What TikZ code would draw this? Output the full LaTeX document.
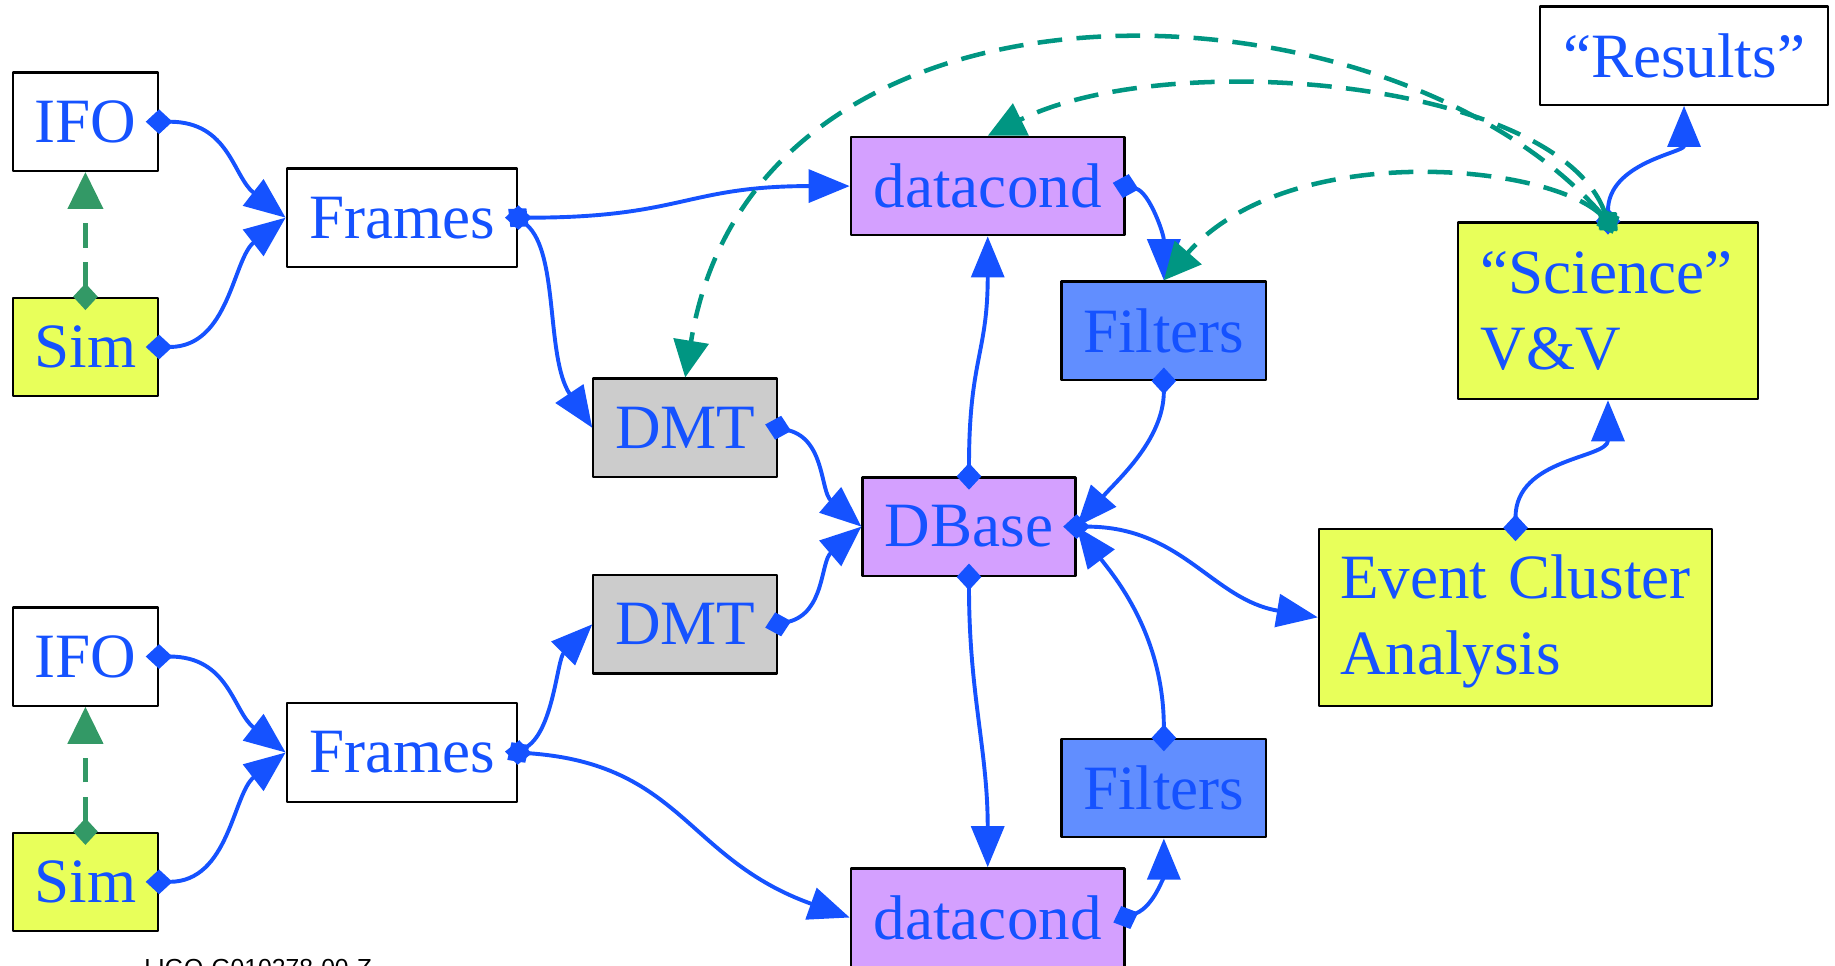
\documentclass[tikz,border=0pt]{standalone}
\usepackage{fontspec}
\setmainfont{Liberation Serif}
\newfontfamily\idfont{Liberation Sans}
\usetikzlibrary{arrows.meta}
\definecolor{inkblue}{RGB}{21,82,255}
\definecolor{linkteal}{RGB}{0,150,130}
\definecolor{simgreen}{RGB}{51,153,102}
\definecolor{simyellow}{RGB}{232,255,90}
\definecolor{lilac}{RGB}{212,160,255}
\definecolor{dmtgrey}{RGB}{204,204,204}
\definecolor{filtblue}{RGB}{97,142,255}
\begin{document}
\begin{tikzpicture}[x=0.02cm, y=-0.02cm, line join=round,
	box/.style={draw=black, line width=1.1pt, text=inkblue, inner sep=0pt, minimum height=1.68cm, font=\fontsize{30.7}{37}\selectfont},
	tallbox/.style={box, minimum height=3.02cm, align=left},
	flow/.style={draw=inkblue, line width=1.9pt, {Diamond[length=13pt,width=12pt]}-{Triangle[length=20pt,width=16pt]}, shorten <=-6.5pt},
	link/.style={draw=linkteal, line width=2.2pt, dash pattern=on 12pt off 7pt, {Diamond[length=13pt,width=12pt]}-{Triangle[length=18pt,width=17pt]}, shorten <=-6.5pt},
	simlink/.style={link, draw=simgreen}]
				\useasboundingbox (0,0) rectangle (1568,825);
				\node[box, minimum width=2.48cm] (ifoA) at (73,104) {IFO};
				\node[box, minimum width=2.48cm, fill=simyellow] (simA) at (73,296.5) {Sim};
				\node[box, minimum width=3.94cm] (framesA) at (343.5,186) {Frames};
				\node[box, minimum width=2.48cm] (ifoB) at (73,561) {IFO};
				\node[box, minimum width=2.48cm, fill=simyellow] (simB) at (73,753.5) {Sim};
				\node[box, minimum width=3.94cm] (framesB) at (343.5,643) {Frames};
				\node[box, minimum width=3.14cm, fill=dmtgrey] (dmtA) at (585.5,365.5) {DMT};
				\node[box, minimum width=3.14cm, fill=dmtgrey] (dmtB) at (585.5,533.5) {DMT};
				\node[box, minimum width=4.68cm, fill=lilac] (dcA) at (844,159) {datacond};
				\node[box, minimum width=4.68cm, fill=lilac] (dcB) at (844,784) {datacond};
				\node[box, minimum width=3.64cm, fill=lilac] (dbase) at (828,450) {DBase};
				\node[box, minimum width=3.5cm, fill=filtblue] (filtA) at (994.5,282.5) {Filters};
				\node[box, minimum width=3.5cm, fill=filtblue] (filtB) at (994.5,673.5) {Filters};
				\node[box, minimum width=4.92cm] (results) at (1439,47.5) {“Results”};
				\node[tallbox, minimum width=5.12cm, text width=4.36cm, fill=simyellow] (science) at (1374,265.5) {“Science”\\V\&V};
				\node[tallbox, minimum width=6.72cm, text width=6cm, fill=simyellow] (event) at (1295,527.5) {\rule{0pt}{0.9cm}Event Cluster\\Analysis};
				\node[font=\idfont\fontsize{12}{14}\selectfont, anchor=base west, inner sep=0pt] (docid) at (123,834) {LIGO-G010278-00-Z};
				\draw[simlink] (simA.north) -- (ifoA.south);
				\draw[simlink] (simB.north) -- (ifoB.south);
				\draw[flow] (ifoA.east) .. controls +(60,0) and +(-45,-35) .. (framesA.west);
				\draw[flow] (simA.east) .. controls +(60,0) and +(-45,35) .. (framesA.west);
				\draw[flow] (ifoB.east) .. controls +(60,0) and +(-45,-35) .. (framesB.west);
				\draw[flow] (simB.east) .. controls +(60,0) and +(-45,35) .. (framesB.west);
				\draw[flow] (framesA.east) .. controls +(140,0) and +(-140,0) .. (dcA.west);
				\draw[flow] (framesA.east) .. controls +(35,30) and +(-40,-60) .. (dmtA.west);
				\draw[flow] (framesB.east) .. controls +(30,-20) and +(-30,30) .. (dmtB.west);
				\draw[flow] (framesB.east) .. controls +(140,10) and +(-140,-50) .. (dcB.west);
				\draw[flow] (dmtA.east) .. controls +(40,10) and +(-35,-30) .. (dbase.west);
				\draw[flow] (dmtB.east) .. controls +(40,-10) and +(-35,30) .. (dbase.west);
				\draw[flow] (dbase.north) .. controls +(0,-100) and +(0,100) .. (dcA.south);
				\draw[flow] (dbase.south) .. controls +(0,100) and +(0,-100) .. (dcB.north);
				\draw[flow] (dcA.east) .. controls +(20,5) and +(0,-40) .. (filtA.north);
				\draw[flow] (dcB.east) .. controls +(25,-10) and +(0,30) .. (filtB.south);
				\draw[flow] (filtA.south) .. controls +(0,50) and +(35,-40) .. (dbase.east);
				\draw[flow] (filtB.north) .. controls +(0,-90) and +(30,40) .. (dbase.east);
				\draw[flow] (dbase.east) .. controls +(90,0) and +(-90,-15) .. (event.west);
				\draw[flow] (event.north) .. controls +(0,-60) and +(0,50) .. (science.south);
				\draw[flow] (science.north) .. controls +(0,-50) and +(0,40) .. (results.south);
				\draw[link] (science.north) .. controls +(-190,-215) and +(60,-370) .. (dmtA.north);
				\draw[link] (science.north) .. controls +(-44,-120) and +(156,-77) .. (dcA.north);
				\draw[link] (science.north) .. controls +(-54,-50) and +(105,-120) .. (filtA.north);
\end{tikzpicture}
\end{document}
